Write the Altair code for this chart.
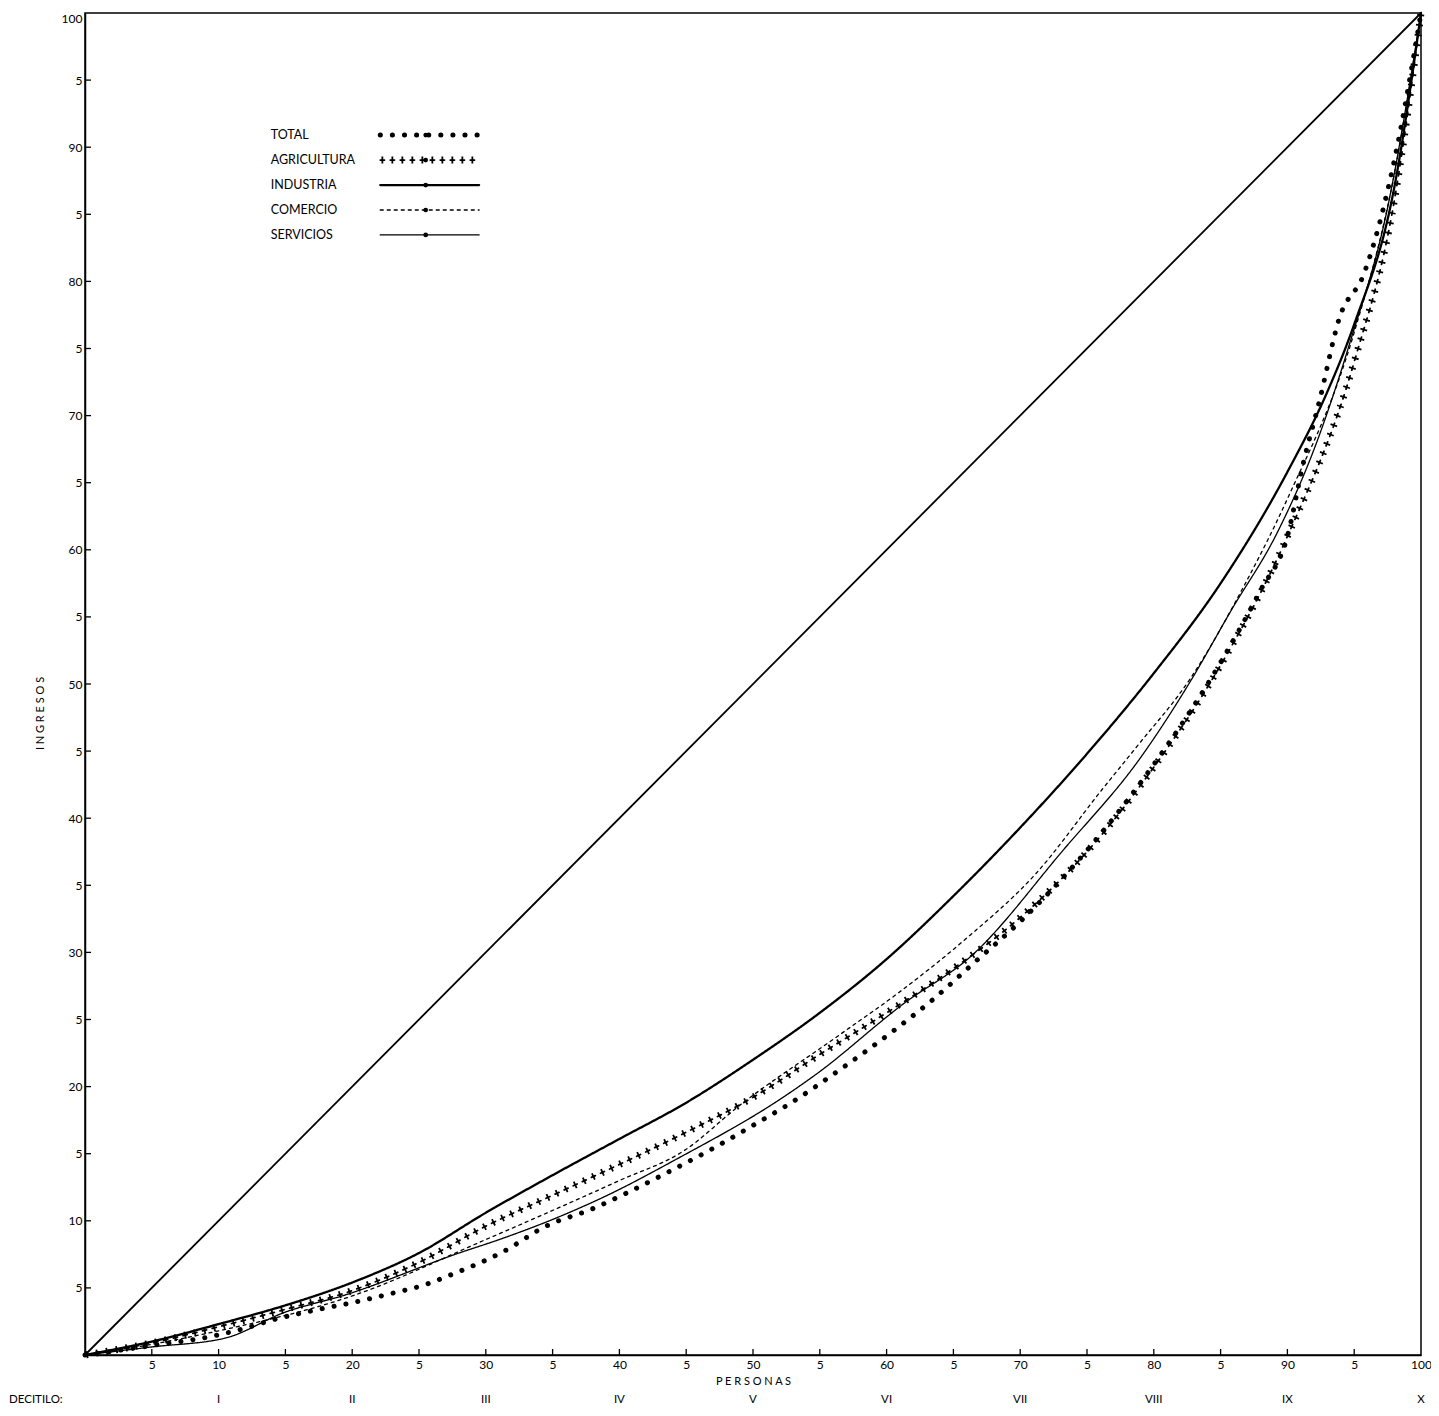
import altair as alt
import pandas as pd

# ---------------- data ----------------
SERIES = ["TOTAL", "AGRICULTURA", "INDUSTRIA", "COMERCIO", "SERVICIOS"]

x_total = [0, 5, 10, 12, 14, 17.5, 20, 23, 25.5, 27.2, 31.3, 34.5, 38, 40.4, 43.6, 47.2,
           50.5, 52.7, 56.7, 60.7, 63.6, 66.4, 70, 75, 80, 85, 88, 90, 91.2, 92.4, 93.9,
           95.7, 98, 100]
y_total = [0, 0.7, 1.5, 2.0, 2.6, 3.4, 3.9, 4.6, 5.25, 5.9, 7.7, 9.6, 10.9, 12.0, 13.6, 15.5,
           17.4, 18.7, 21.4, 24.3, 26.6, 29.1, 32.3, 37.6, 44.0, 51.6, 57.0, 61.0, 66.5, 71.1, 77.3,
           80.5, 89.0, 100]

x_agri = [0, 5, 10, 15, 20, 25, 30, 35, 40, 45, 50, 55, 60, 65, 70, 75, 80, 85, 90, 95, 98, 100]
y_agri = [0, 0.9, 2.1, 3.4, 4.8, 6.9, 9.6, 11.9, 14.2, 16.6, 19.2, 22.4, 25.5, 28.8, 32.6, 37.5,
          43.8, 51.4, 61.0, 74.0, 86.0, 100]

x_ind = [0, 5, 10, 15, 20, 25, 30, 35, 40, 45, 50, 55, 60, 65, 70, 75, 80, 85, 90, 93, 95, 98, 100]
y_ind = [0, 1.0, 2.3, 3.7, 5.4, 7.6, 10.6, 13.4, 16.1, 18.8, 22.0, 25.5, 29.5, 34.2, 39.3, 44.8,
         50.8, 57.5, 65.8, 71.8, 76.8, 87.0, 100]

x_com = [0, 5, 10, 20, 30, 40, 44.8, 49, 56.4, 60.9, 65.8, 71.2, 76.1, 78.7, 82.8, 86.8, 90, 95, 98, 100]
y_com = [0, 0.8, 1.8, 4.4, 8.6, 13.0, 15.2, 18.6, 23.8, 27.0, 30.9, 35.9, 42.1, 45.3, 50.5, 57.4,
         63.8, 76.2, 88.0, 100]

x_serv = [0, 5, 10.5, 15, 19.4, 28, 31, 35, 39.1, 44.1, 52.4, 54.7, 61.3, 66.3, 73.2, 79, 82.8,
          85.8, 89.2, 92, 94.7, 97.5, 100]
y_serv = [0, 0.6, 1.26, 3.2, 4.45, 7.6, 8.6, 10.1, 11.9, 14.5, 19.3, 20.9, 26.2, 29.7, 37.6, 44.5,
          50.3, 55.5, 61.2, 67.5, 75.5, 85.5, 100]

x_equal = [0, 100]
y_equal = [0, 100]

tick_values = [0, 5, 10, 15, 20, 25, 30, 35, 40, 45, 50, 55, 60, 65, 70, 75, 80, 85, 90, 95, 100]
inner_ticks = [5, 10, 15, 20, 25, 30, 35, 40, 45, 50, 55, 60, 65, 70, 75, 80, 85, 90, 95]
deciles = [10, 20, 30, 40, 50, 60, 70, 80, 90, 100]
decile_labels = ["I", "II", "III", "IV", "V", "VI", "VII", "VIII", "IX", "X"]

# ---------------- layout constants (legend placement, in axis units) ----------------
LEG_LABEL_X = 13.9
LEG_X0, LEG_X1 = 22.1, 29.5
LEG_Y0, LEG_DY = 90.9, 1.86

# ---------------- tables ----------------
rows = []
for name, xs, ys in [("TOTAL", x_total, y_total), ("AGRICULTURA", x_agri, y_agri),
                     ("INDUSTRIA", x_ind, y_ind), ("COMERCIO", x_com, y_com),
                     ("SERVICIOS", x_serv, y_serv)]:
    rows += [{"series": name, "grp": "curve", "x": a, "y": b} for a, b in zip(xs, ys)]
leg_rows, leg_pts = [], []
for i, name in enumerate(SERIES):
    yy = LEG_Y0 - i * LEG_DY
    leg_rows += [{"series": name, "grp": "legend", "x": LEG_X0, "y": yy},
                 {"series": name, "grp": "legend", "x": LEG_X1, "y": yy}]
    leg_pts.append({"series": name, "xl": LEG_LABEL_X, "xc": (LEG_X0 + LEG_X1) / 2 - 0.3, "y": yy})
df = pd.DataFrame(rows + leg_rows)
df_leg = pd.DataFrame(leg_pts)
df_eq = pd.DataFrame({"x": x_equal, "y": y_equal})
df_ticks = pd.DataFrame({"v": inner_ticks})
df_dec = pd.DataFrame({"x": deciles, "label": decile_labels})

# ---------------- styling ----------------
W, H = 1336, 1342
FONT = "Lato"
DASHES = [[0.1, 12], [4.2, 5.8], [1, 0], [3, 4], [1, 0]]

xscale = alt.Scale(domain=[0, 100], nice=False, zero=False)
yscale = alt.Scale(domain=[0, 100], nice=False, zero=False)
label_expr = "datum.value == 0 ? '' : (datum.value % 10 == 0 ? datum.label : '5')"

x_axis = alt.Axis(values=tick_values, labelExpr=label_expr, ticks=False, grid=False,
                  domainColor="black", domainWidth=1.5, labelFont=FONT, labelFontSize=12,
                  labelColor="black", labelPadding=4, labelFlush=False, labelOverlap=False,
                  title="P E R S O N A S", titleFont=FONT, titleFontSize=11,
                  titleFontWeight="normal", titleColor="black", titlePadding=5)
y_axis = alt.Axis(values=tick_values, labelExpr=label_expr, ticks=False, grid=False,
                  domainColor="black", domainWidth=1.5, labelFont=FONT, labelFontSize=12,
                  labelColor="black", labelPadding=3, labelFlush=False, labelOverlap=False,
                  labelBaseline={"condition": {"test": "datum.value >= 100", "value": "top"},
                                 "value": "middle"},
                  title="I N G R E S O S", titleFont=FONT, titleFontSize=11,
                  titleFontWeight="normal", titleColor="black", titleX=-40, titleY=700)

stroke_w = (alt.when(alt.datum.series == "TOTAL").then(alt.value(5))
            .when(alt.datum.series == "INDUSTRIA").then(alt.value(2.3))
            .when(alt.datum.series == "AGRICULTURA").then(alt.value(1.8))
            .otherwise(alt.value(1.3)))

lines = alt.Chart(df).mark_line(color="black", strokeCap="round", interpolate="monotone").encode(
    x=alt.X("x:Q", scale=xscale, axis=x_axis),
    y=alt.Y("y:Q", scale=yscale, axis=y_axis),
    strokeDash=alt.StrokeDash("series:N", scale=alt.Scale(domain=SERIES, range=DASHES),
                              legend=None),
    strokeWidth=stroke_w,
    detail="grp:N",
)

agri_cross = alt.Chart(df).transform_filter(alt.datum.series == "AGRICULTURA").mark_line(
    color="black", strokeWidth=7, strokeDash=[1.8, 8.2], strokeDashOffset=8.8,
    strokeCap="butt", interpolate="monotone").encode(
    x=alt.X("x:Q", scale=xscale), y=alt.Y("y:Q", scale=yscale), detail="grp:N")

equal = alt.Chart(df_eq).mark_line(color="black", strokeWidth=1.8).encode(
    x=alt.X("x:Q", scale=xscale), y=alt.Y("y:Q", scale=yscale))

leg_text = alt.Chart(df_leg).mark_text(font=FONT, fontSize=12.5, color="black", align="left",
                                       baseline="middle").encode(
    x=alt.X("xl:Q", scale=xscale), y=alt.Y("y:Q", scale=yscale), text="series:N")
leg_dot = alt.Chart(df_leg).mark_circle(color="black", opacity=1, size=22).encode(
    x=alt.X("xc:Q", scale=xscale), y=alt.Y("y:Q", scale=yscale))

ytick = alt.Chart(df_ticks).mark_rule(color="black", strokeWidth=1.3).encode(
    y=alt.Y("v:Q", scale=yscale), x=alt.value(0), x2=alt.value(6))
xtick = alt.Chart(df_ticks).mark_rule(color="black", strokeWidth=1.3).encode(
    x=alt.X("v:Q", scale=xscale), y=alt.value(H), y2=alt.value(H - 6))

dec_text = alt.Chart(df_dec).mark_text(font=FONT, fontSize=11.5, color="black",
                                        baseline="middle").encode(
    x=alt.X("x:Q", scale=xscale), y=alt.value(H + 45), text="label:N")
dec_title = alt.Chart(pd.DataFrame({"t": ["DECITILO:"]})).mark_text(
    font=FONT, fontSize=11.5, color="black", align="left", baseline="middle").encode(
    x=alt.value(-76), y=alt.value(H + 45), text="t:N")

chart = alt.layer(equal, agri_cross, lines, leg_text, leg_dot, ytick, xtick,
                  dec_text, dec_title).properties(
    width=W, height=H,
    autosize=alt.AutoSizeParams(type="none"),
    padding={"left": 77, "top": 5, "right": 10, "bottom": 53},
    background="white",
).configure_view(stroke="black", strokeWidth=1.5)

chart.save("out.html", embed_options={"renderer": "svg", "actions": False})
